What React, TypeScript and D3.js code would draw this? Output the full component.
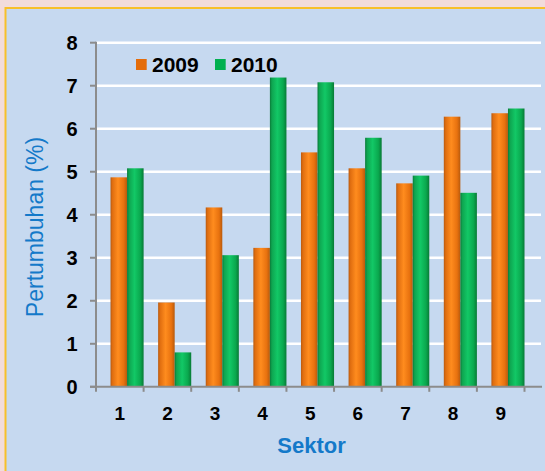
import React from 'react';
import * as d3 from 'd3';

const categories = ['1', '2', '3', '4', '5', '6', '7', '8', '9'];
const seriesNames = ['2009', '2010'];
const values2009 = [4.87, 1.96, 4.17, 3.23, 5.45, 5.08, 4.73, 6.28, 6.36];
const values2010 = [5.08, 0.8, 3.06, 7.19, 7.08, 5.79, 4.91, 4.51, 6.47];
const yTicks = [0, 1, 2, 3, 4, 5, 6, 7, 8];

const W = 545;
const H = 471;
const left = 96;
const right = 524.5;
const top = 42.7;
const bottom = 386.8;

export default function App() {
  const x = d3.scaleBand<string>().domain(categories).range([left, right]);
  const bw = x.bandwidth();
  const inner = d3.scaleBand<string>().domain(seriesNames).range([bw * 0.305, bw]);
  const y = d3.scaleLinear().domain([0, 8]).range([bottom, top]);
  const seriesValues = [values2009, values2010];
  const fills = ['url(#gOrange)', 'url(#gGreen)'];
  const legendColors = ['#e46c0a', '#00b050'];
  const boundaries = categories.map((c) => x(c) as number).concat([right]);
  const font = 'Arial, "Liberation Sans", Helvetica, sans-serif';

  return (
    <div style={{ position: 'absolute', left: 0, top: 0 }}>
      <svg width={W} height={H} style={{ display: 'block' }} fontFamily={font}>
        <defs>
          <linearGradient id="gOrange" x1="0" x2="1" y1="0" y2="0">
            <stop offset="0" stopColor="#b85a10" />
            <stop offset="0.12" stopColor="#e06e10" />
            <stop offset="0.45" stopColor="#ff8c1e" />
            <stop offset="0.8" stopColor="#e8720f" />
            <stop offset="1" stopColor="#b85a0c" />
          </linearGradient>
          <linearGradient id="gGreen" x1="0" x2="1" y1="0" y2="0">
            <stop offset="0" stopColor="#0a7a38" />
            <stop offset="0.12" stopColor="#0ea550" />
            <stop offset="0.45" stopColor="#12c866" />
            <stop offset="0.8" stopColor="#0aa84e" />
            <stop offset="1" stopColor="#087a36" />
          </linearGradient>
        </defs>
        <rect x={0} y={0} width={W} height={H} fill="#f2dcdb" />
        <rect x={5.5} y={8} width={W} height={H} fill="#c6d9f0" stroke="#f7c02a" strokeWidth={2} />

        {/* gridlines */}
        {yTicks.filter((t) => t > 0).map((t) => (
          <line key={'g' + t} x1={left} x2={541} y1={y(t)} y2={y(t)} stroke="#ffffff" strokeWidth={2.5} />
        ))}

        {/* bars */}
        {seriesNames.map((s, si) =>
          categories.map((c, i) => {
            const v = seriesValues[si][i];
            const bx = (x(c) as number) + (inner(s) as number);
            return (
              <rect
                key={s + c}
                x={bx}
                y={y(v)}
                width={inner.bandwidth()}
                height={y(0) - y(v)}
                fill={fills[si]}
              />
            );
          })
        )}

        {/* y axis */}
        <line x1={left} x2={left} y1={top - 1} y2={bottom} stroke="#8c8c8c" strokeWidth={2} />
        {yTicks.map((t) => (
          <g key={'yt' + t}>
            <line x1={90} x2={left} y1={y(t)} y2={y(t)} stroke="#8c8c8c" strokeWidth={2} />
            <text x={77.5} y={y(t)} dy="0.36em" textAnchor="end" fontSize={20} fontWeight="bold" fill="#000">
              {t}
            </text>
          </g>
        ))}

        {/* x axis */}
        <line x1={90} x2={542} y1={bottom} y2={bottom} stroke="#8c8c8c" strokeWidth={2} />
        {boundaries.map((b, i) => (
          <line key={'xt' + i} x1={b} x2={b} y1={bottom} y2={bottom + 5} stroke="#8c8c8c" strokeWidth={2} />
        ))}
        {categories.map((c) => (
          <text
            key={'xl' + c}
            x={(x(c) as number) + bw / 2}
            y={420}
            textAnchor="middle"
            fontSize={19}
            fontWeight="bold"
            fill="#000"
          >
            {c}
          </text>
        ))}

        {/* axis titles */}
        <text x={311.5} y={453.3} textAnchor="middle" fontSize={22} fontWeight="bold" fill="#1479c9">
          Sektor
        </text>
        <text
          transform="translate(43,227) rotate(-90)"
          textAnchor="middle"
          fontSize={23}
          fill="#1479c9"
        >
          Pertumbuhan (%)
        </text>

        {/* legend */}
        {seriesNames.map((s, i) => {
          const lx = [136, 215][i];
          return (
            <g key={'lg' + s}>
              <rect x={lx} y={59} width={10.7} height={11} fill={legendColors[i]} />
              <text x={lx + 16} y={72.3} fontSize={21} fontWeight="bold" fill="#000">
                {s}
              </text>
            </g>
          );
        })}
      </svg>
    </div>
  );
}
